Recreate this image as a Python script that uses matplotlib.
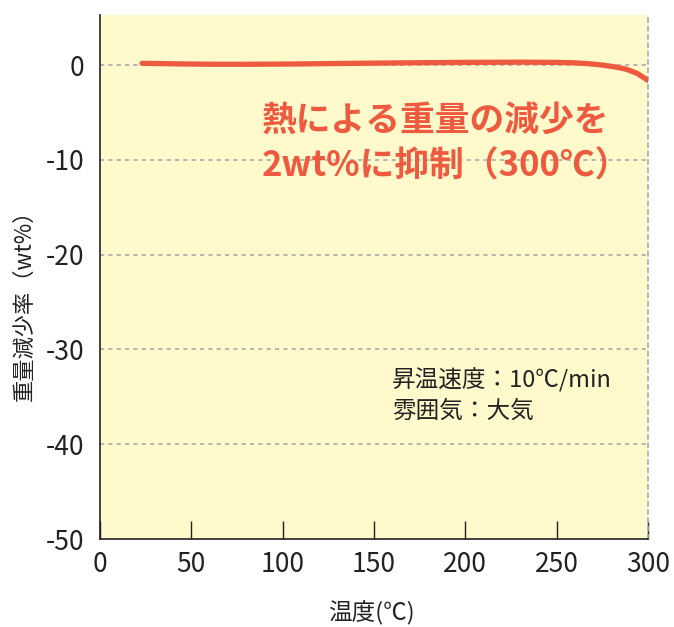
import matplotlib
matplotlib.use("Agg")
import matplotlib.pyplot as plt
from matplotlib.ticker import FixedLocator

plt.rcParams['font.family'] = ['Noto Sans CJK JP', 'DejaVu Sans']

temp = [23, 40, 60, 80, 100, 130, 160, 200, 230, 250, 260, 268, 275, 282, 288, 294, 300]
loss = [0.2, 0.15, 0.1, 0.1, 0.12, 0.18, 0.24, 0.3, 0.32, 0.3, 0.25, 0.15, 0.02, -0.18, -0.42, -0.85, -1.6]
xticks = [0, 50, 100, 150, 200, 250, 300]
yticks = [0, -10, -20, -30, -40, -50]
xlabel = "温度(℃)"
ylabel = "重量減少率（wt%）"
headline = "熱による重量の減少を\n2wt%に抑制（300℃）"
note = "昇温速度：10℃/min\n雰囲気：大気"

red = "#EE5A3F"
dark = "#222222"

fig = plt.figure(figsize=(6.74, 6.27), dpi=100)
ax = fig.add_axes([100/674, 1-539/627, 548/674, 524/627])
ax.set_facecolor("#FFF9CC")
ax.set_xlim(0, 300)
ax.set_ylim(-50, 5.3)

for y in yticks[:-1]:
    ax.axhline(y, color="#AAAAAA", lw=1.2, ls=(0, (2.5, 2.5)), zorder=1)

ax.plot(temp, loss, color=red, lw=3.8, solid_capstyle="round", solid_joinstyle="round", zorder=3)

ax.spines['top'].set_visible(False)
ax.spines['right'].set_color("#AAAAAA")
ax.spines['right'].set_linestyle((0, (2.5, 2.5)))
ax.spines['right'].set_linewidth(1.2)
ax.spines['left'].set_color(dark)
ax.spines['bottom'].set_color(dark)
ax.spines['left'].set_linewidth(1.2)
ax.spines['bottom'].set_linewidth(1.2)

ax.xaxis.set_major_locator(FixedLocator(xticks))
ax.yaxis.set_major_locator(FixedLocator(yticks))
ax.set_xticklabels([str(v) for v in xticks])
ax.set_yticklabels([str(v) for v in yticks])
ax.tick_params(axis='x', direction='in', length=13, width=1, color=dark, labelsize=19, pad=9, labelcolor=dark)
ax.tick_params(axis='y', length=0, labelsize=19, pad=11, labelcolor=dark)

ax.set_xlabel(xlabel, fontsize=17, color=dark)
ax.set_ylabel(ylabel, fontsize=16, color=dark)
ax.xaxis.set_label_coords(0.495, -0.118)
ax.yaxis.set_label_coords(-0.118, 0.456)

ax.text(88.7, -8.2, headline, ha='left', va='center', multialignment='left',
        fontsize=25, fontweight='bold', color=red, linespacing=1.4)
ax.text(159.9, -34.86, note, ha='left', va='center', multialignment='left',
        fontsize=17, color=dark, linespacing=1.45)

fig.savefig("out.png", dpi=100)
